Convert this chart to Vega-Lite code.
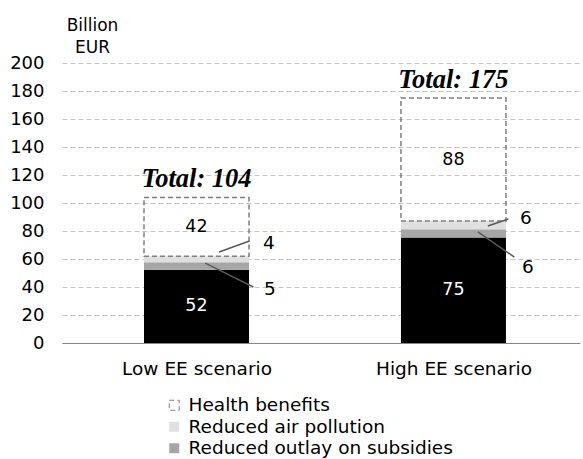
{
  "$schema": "https://vega.github.io/schema/vega-lite/v6.json",
  "autosize": "none",
  "width": 518,
  "height": 280,
  "padding": {"left": 62, "top": 63, "right": 3, "bottom": 116},
  "background": "white",
  "config": {
    "font": "DejaVu Sans",
    "view": {"stroke": null},
    "axis": {"labelColor": "#000000", "titleColor": "#000000"},
    "axisX": {
      "grid": false, "ticks": false, "labelFontSize": 18.5, "labelPadding": 16, "labelBaseline": "top",
      "domainColor": "#868686", "domainWidth": 1.2
    },
    "axisY": {
      "labelOverlap": false, "domain": false, "ticks": false, "labelFontSize": 18, "labelPadding": 18,
      "grid": true, "gridColor": "#c4c4c4", "gridDash": [5, 3], "gridWidth": 1,
      "titleAngle": 0, "titleAlign": "center", "titleBaseline": "alphabetic", "titleX": 30, "titleY": -33,
      "titleFontSize": 17, "titleFontWeight": "normal", "titleLineHeight": 22
    }
  },
  "datasets": {
    "segments": [
      {"scenario": "Low EE scenario", "x": 0.5, "category": "Energy savings", "value": 52.4, "rank": 1},
      {"scenario": "Low EE scenario", "x": 0.5, "category": "Reduced outlay on subsidies", "value": 5.2, "rank": 2},
      {"scenario": "Low EE scenario", "x": 0.5, "category": "Reduced air pollution", "value": 4.3, "rank": 3},
      {"scenario": "Low EE scenario", "x": 0.5, "category": "Health benefits", "value": 42.1, "rank": 4},
      {"scenario": "High EE scenario", "x": 1.5, "category": "Energy savings", "value": 75.4, "rank": 1},
      {"scenario": "High EE scenario", "x": 1.5, "category": "Reduced outlay on subsidies", "value": 5.8, "rank": 2},
      {"scenario": "High EE scenario", "x": 1.5, "category": "Reduced air pollution", "value": 5.9, "rank": 3},
      {"scenario": "High EE scenario", "x": 1.5, "category": "Health benefits", "value": 87.9, "rank": 4}
    ],
    "callouts": [
      {"x": 0.588, "x2": 0.706, "y": 65.0, "y2": 72.9, "lx": 0.782, "ly": 71.4, "label": "4"},
      {"x": 0.534, "x2": 0.721, "y": 57.1, "y2": 40.0, "lx": 0.786, "ly": 38.6, "label": "5"},
      {"x": 1.634, "x2": 1.714, "y": 83.6, "y2": 88.6, "lx": 1.782, "ly": 89.3, "label": "6"},
      {"x": 1.595, "x2": 1.737, "y": 79.3, "y2": 61.4, "lx": 1.79, "ly": 54.3, "label": "6"}
    ],
    "totals": [
      {"x": 0.5, "total": 104, "label": "Total: 104"},
      {"x": 1.5, "total": 175, "label": "Total: 175"}
    ]
  },
  "layer": [
    {
      "data": {"name": "segments"},
      "mark": {"type": "bar", "width": 105, "strokeWidth": 1.5},
      "encoding": {
        "x": {
          "field": "x", "type": "quantitative",
          "scale": {"domain": [-0.004, 1.973], "nice": false, "zero": false},
          "axis": {"title": null, "values": [0.5, 1.5], "labelExpr": "datum.value < 1 ? 'Low EE scenario' : 'High EE scenario'"}
        },
        "y": {
          "field": "value", "type": "quantitative", "stack": "zero",
          "scale": {"domain": [0, 200], "nice": false},
          "axis": {"title": ["Billion", "EUR"], "values": [0, 20, 40, 60, 80, 100, 120, 140, 160, 180, 200]}
        },
        "order": {"field": "rank", "type": "quantitative"},
        "fill": {
          "field": "category", "type": "nominal",
          "scale": {
            "domain": ["Health benefits", "Reduced air pollution", "Reduced outlay on subsidies", "Energy savings"],
            "range": ["transparent", "#e0e0e0", "#a6a6a6", "#000000"]
          },
          "legend": {
            "title": null, "orient": "none", "legendX": 103, "legendY": 333,
            "values": ["Health benefits", "Reduced air pollution", "Reduced outlay on subsidies"],
            "labelFontSize": 18.5, "labelColor": "#000000", "labelLimit": 400, "symbolSize": 100,
            "symbolType": "square", "rowPadding": 2.5, "labelOffset": 5,
            "symbolStrokeWidth": 1
          }
        },
        "stroke": {
          "field": "category", "type": "nominal",
          "scale": {
            "domain": ["Health benefits", "Reduced air pollution", "Reduced outlay on subsidies", "Energy savings"],
            "range": ["#7f7f7f", "transparent", "transparent", "transparent"]
          }
        },
        "strokeDash": {
          "field": "category", "type": "nominal",
          "scale": {
            "domain": ["Health benefits", "Reduced air pollution", "Reduced outlay on subsidies", "Energy savings"],
            "range": [[5, 3], [1, 0], [1, 0], [1, 0]]
          }
        }
      }
    },
    {
      "data": {"name": "segments"},
      "transform": [
        {"stack": "value", "groupby": ["x"], "sort": [{"field": "rank", "order": "ascending"}], "as": ["v0", "v1"]},
        {"calculate": "(datum.v0 + datum.v1) / 2", "as": "mid"},
        {"filter": "datum.category == 'Energy savings' || datum.category == 'Health benefits'"}
      ],
      "mark": {"type": "text", "fontSize": 17.5, "align": "center", "baseline": "middle"},
      "encoding": {
        "x": {"field": "x", "type": "quantitative", "axis": {"title": null, "values": [0.5, 1.5], "labelExpr": "datum.value < 1 ? 'Low EE scenario' : 'High EE scenario'"}},
        "y": {"field": "mid", "type": "quantitative", "axis": {"title": ["Billion", "EUR"], "values": [0, 20, 40, 60, 80, 100, 120, 140, 160, 180, 200]}},
        "text": {"field": "value", "type": "quantitative", "format": ".0f"},
        "color": {"condition": {"test": "datum.category == 'Energy savings'", "value": "#ffffff"}, "value": "#000000"}
      }
    },
    {
      "data": {"name": "callouts"},
      "mark": {"type": "rule", "color": "#595959", "strokeWidth": 1.5},
      "encoding": {
        "x": {"field": "x", "type": "quantitative", "axis": {"title": null, "values": [0.5, 1.5], "labelExpr": "datum.value < 1 ? 'Low EE scenario' : 'High EE scenario'"}},
        "x2": {"field": "x2"},
        "y": {"field": "y", "type": "quantitative", "axis": {"title": ["Billion", "EUR"], "values": [0, 20, 40, 60, 80, 100, 120, 140, 160, 180, 200]}},
        "y2": {"field": "y2"}
      }
    },
    {
      "data": {"name": "callouts"},
      "mark": {"type": "text", "fontSize": 18.5, "align": "center", "baseline": "middle", "color": "#000000"},
      "encoding": {
        "x": {"field": "lx", "type": "quantitative", "axis": {"title": null, "values": [0.5, 1.5], "labelExpr": "datum.value < 1 ? 'Low EE scenario' : 'High EE scenario'"}},
        "y": {"field": "ly", "type": "quantitative", "axis": {"title": ["Billion", "EUR"], "values": [0, 20, 40, 60, 80, 100, 120, 140, 160, 180, 200]}},
        "text": {"field": "label", "type": "nominal"}
      }
    },
    {
      "data": {"name": "totals"},
      "mark": {"type": "text", "font": "Liberation Serif", "fontSize": 26.5, "fontWeight": "bold", "fontStyle": "italic", "align": "center", "baseline": "alphabetic", "dy": -10, "color": "#000000"},
      "encoding": {
        "x": {"field": "x", "type": "quantitative", "axis": {"title": null, "values": [0.5, 1.5], "labelExpr": "datum.value < 1 ? 'Low EE scenario' : 'High EE scenario'"}},
        "y": {"field": "total", "type": "quantitative", "axis": {"title": ["Billion", "EUR"], "values": [0, 20, 40, 60, 80, 100, 120, 140, 160, 180, 200]}},
        "text": {"field": "label", "type": "nominal"}
      }
    }
  ]
}
